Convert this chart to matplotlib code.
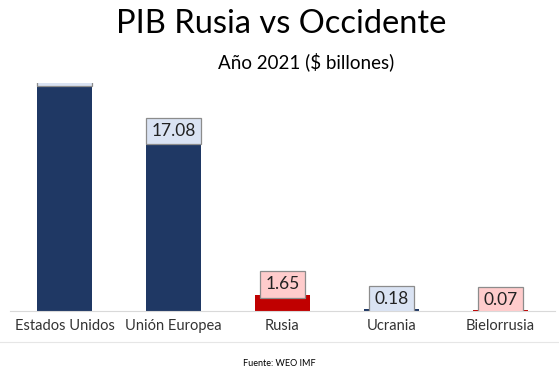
import matplotlib.pyplot as plt
from matplotlib.lines import Line2D

paises = ['Estados Unidos', 'Unión Europea', 'Rusia', 'Ucrania', 'Bielorrusia']
pib = [22.94, 17.08, 1.65, 0.18, 0.07]
grupo = ['occ', 'occ', 'rus', 'occ', 'rus']

colores_barra = {'occ': '#1F3864', 'rus': '#C00000'}
colores_caja = {'occ': '#DAE3F3', 'rus': '#FFCCCC'}

plt.rcParams['font.family'] = ['Lato', 'DejaVu Sans']

fig = plt.figure(figsize=(5.59, 3.76), dpi=100)
ax = fig.add_axes([10 / 559, 1 - 311 / 376, 545 / 559, 228 / 376])

x = range(len(paises))
ax.bar(x, pib, width=0.5, color=[colores_barra[g] for g in grupo], zorder=2)

for i, (v, g) in enumerate(zip(pib, grupo)):
    ax.annotate(f'{v:.2f}', (i, v), xytext=(0, 1.5), textcoords='offset points',
                ha='center', va='bottom', fontsize=12.5, color='#222222',
                annotation_clip=False, clip_on=True, zorder=3,
                bbox=dict(boxstyle='square,pad=0.3', fc=colores_caja[g],
                          ec='#8C8C8C', lw=0.9))

ax.set_xlim(-0.5, 4.5)
ax.set_ylim(0, 22.9)
ax.set_xticks(list(x))
ax.set_xticklabels(paises, fontsize=10.5, color='#333333')
ax.tick_params(axis='x', length=0, pad=6)
ax.set_yticks([])
for s in ['top', 'right', 'left']:
    ax.spines[s].set_visible(False)
ax.spines['bottom'].set_color('#D9D9D9')

fig.add_artist(Line2D([0, 1], [1 - 342 / 376] * 2, color='#E6E6E6', lw=0.8))

fig.text(281 / 559, 1 - 24 / 376, 'PIB Rusia vs Occidente', ha='center', va='center',
         fontsize=23.5, color='black')
fig.text(306 / 559, 1 - 62 / 376, 'Año 2021 ($ billones)', ha='center', va='center',
         fontsize=13.5, color='black')
fig.text(0.5, 1 - 364 / 376, 'Fuente: WEO IMF', ha='center', va='center',
         fontsize=6.5, color='black')

fig.savefig('out.png', dpi=100)
